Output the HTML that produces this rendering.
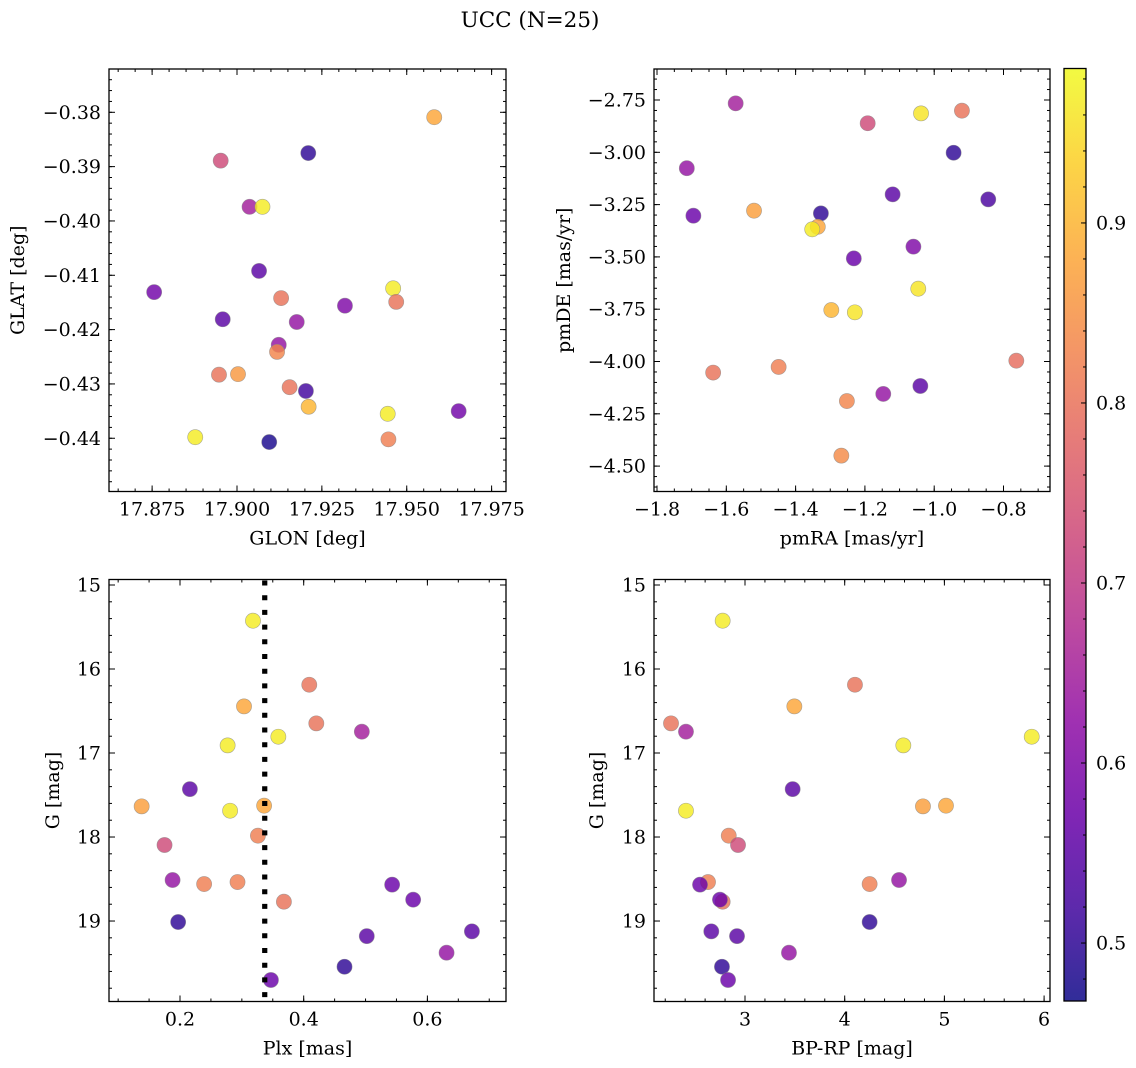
<!DOCTYPE html>
<html><head><meta charset="utf-8"><style>
html,body{margin:0;padding:0;background:#fff;}
svg{display:block;font-family:"DejaVu Serif","Liberation Serif",serif;}
</style></head><body>
<svg id="fig" width="1136" height="1068" viewBox="0 0 1136 1068" xmlns="http://www.w3.org/2000/svg">
<defs><linearGradient id="cbgrad" x1="0" y1="1" x2="0" y2="0"></linearGradient></defs>
<text x="530" y="27" font-size="21.5" text-anchor="middle">UCC (N=25)</text>
</svg>
<script>
// Panel 1 data (GLON/GLAT)
const glon = [17.9581,17.9210,17.8952,17.9037,17.9075,17.9065,17.8756,17.9460,17.9130,17.9469,17.9318,17.8958,17.9176,17.9123,17.9118,17.8947,17.9003,17.9155,17.9203,17.9211,17.9444,17.9653,17.8877,17.9095,17.9446];
const glat = [-0.3809,-0.3875,-0.3889,-0.3974,-0.3974,-0.4092,-0.4131,-0.4124,-0.4142,-0.4149,-0.4156,-0.4181,-0.4186,-0.4228,-0.4241,-0.4283,-0.4282,-0.4306,-0.4313,-0.4342,-0.4355,-0.4350,-0.4398,-0.4407,-0.4402];
const probA = [0.88,0.50,0.73,0.65,0.97,0.55,0.58,0.97,0.80,0.80,0.60,0.55,0.63,0.63,0.83,0.80,0.86,0.80,0.52,0.90,0.97,0.58,0.97,0.48,0.82];
// Panel 2 data (pmRA/pmDE)
const pmra = [-1.573,-1.714,-1.695,-1.520,-1.327,-1.336,-1.352,-1.192,-1.038,-0.920,-0.944,-1.120,-0.844,-1.232,-1.060,-1.046,-1.297,-1.229,-1.638,-1.449,-0.763,-1.040,-1.147,-1.252,-1.268];
const pmde = [-2.766,-3.076,-3.303,-3.279,-3.292,-3.356,-3.368,-2.861,-2.814,-2.801,-3.002,-3.201,-3.225,-3.507,-3.451,-3.652,-3.754,-3.765,-4.053,-4.026,-3.996,-4.117,-4.155,-4.189,-4.450];
const probB = [0.65,0.63,0.57,0.87,0.50,0.88,0.97,0.73,0.96,0.80,0.50,0.55,0.53,0.57,0.60,0.96,0.90,0.96,0.80,0.82,0.79,0.55,0.63,0.83,0.84];
// Panels 3-4 data (Plx, BP-RP, G)
const plx = [0.318,0.409,0.3035,0.4204,0.494,0.359,0.277,0.216,0.138,0.281,0.336,0.326,0.175,0.188,0.239,0.293,0.368,0.543,0.577,0.197,0.502,0.672,0.631,0.466,0.347];
const bprp = [2.776,4.103,3.495,2.258,2.408,5.876,4.588,3.478,4.785,2.408,5.016,2.837,2.93,4.545,4.25,2.629,2.776,2.549,2.749,4.25,2.92,2.662,3.441,2.769,2.83];
const gmag = [15.425,16.187,16.445,16.647,16.746,16.806,16.909,17.43,17.635,17.687,17.627,17.984,18.095,18.512,18.56,18.536,18.77,18.567,18.746,19.012,19.18,19.123,19.377,19.544,19.702];
const probC = [0.97,0.80,0.88,0.80,0.65,0.97,0.97,0.55,0.87,0.97,0.88,0.82,0.73,0.63,0.82,0.82,0.80,0.57,0.57,0.50,0.55,0.55,0.63,0.50,0.57];
const plxLine = [0.337];
// Tick labels
const p1xTicks = [17.875,17.900,17.925,17.950,17.975];
const p1yTicks = [-0.38,-0.39,-0.40,-0.41,-0.42,-0.43,-0.44];
const p2xTicks = [-1.8,-1.6,-1.4,-1.2,-1.0,-0.8];
const p2yTicks = [-2.75,-3.00,-3.25,-3.50,-3.75,-4.00,-4.25,-4.50];
const p3xTicks = [0.2,0.4,0.6];
const gTicks = [15,16,17,18,19];
const p4xTicks = [3,4,5,6];
const cbTicks = [0.5,0.6,0.7,0.8,0.9];
const vmin = 0.4678, vmax = 0.9858;

const NS = "http://www.w3.org/2000/svg";
const FS = 19;
const svg = document.getElementById('fig');
function mk(tag, attrs, parent){const e=document.createElementNS(NS,tag);for(const k in attrs)e.setAttribute(k,attrs[k]);(parent||svg).appendChild(e);return e;}
const plasma=[[13,8,135],[65,4,157],[106,0,168],[143,13,164],[177,42,144],[204,71,120],[225,100,98],[242,132,75],[252,166,54],[252,206,37],[240,249,33]];
function cmap(v){let t=(v-vmin)/(vmax-vmin);t=Math.max(0,Math.min(1,t))*10;const i=Math.min(9,Math.floor(t)),f=t-i;const a=plasma[i],b=plasma[i+1];return 'rgb('+a.map((c,k)=>Math.round(c+(b[k]-c)*f)).join(',')+')';}
function fmt(v,d){const s=v.toFixed(d);return s.replace('-','\u2212');}

function panel(cfg){
  const {name,L,R,T,B,xmin,xmax,ytop,ybot}=cfg;
  const sx=v=>L+(v-xmin)/(xmax-xmin)*(R-L);
  const sy=v=>T+(v-ytop)/(ybot-ytop)*(B-T);
  const g=mk('g',{});
  
  
  const pg=mk('g',{},g);
  
  
  for(let i=0;i<cfg.xs.length;i++){
    const c=mk('circle',{cx:sx(cfg.xs[i]),cy:sy(cfg.ys[i]),r:7.6,fill:cmap(cfg.cs[i]),'fill-opacity':0.82,stroke:'#888','stroke-opacity':0.7,'stroke-width':0.6},pg);
    
    
  }
  if(cfg.vline){cfg.vline.forEach(v=>{const l=mk('line',{x1:sx(v),x2:sx(v),y1:T+1,y2:B,stroke:'#000','stroke-width':5.2,'stroke-dasharray':'5 9.7'},g);
    
    });}
  const tk=mk('g',{stroke:'#000','stroke-width':1},g);
  const minorX=cfg.minorX, minorY=cfg.minorY;
  function xTick(v,len){const x=sx(v);if(x<L-0.1||x>R+0.1)return;mk('line',{x1:x,x2:x,y1:B,y2:B-len},tk);mk('line',{x1:x,x2:x,y1:T,y2:T+len},tk);}
  function yTick(v,len){const y=sy(v);if(y<T-0.1||y>B+0.1)return;mk('line',{x1:L,x2:L+len,y1:y,y2:y},tk);mk('line',{x1:R,x2:R-len,y1:y,y2:y},tk);}
  const xa=Math.min(xmin,xmax),xb=Math.max(xmin,xmax);
  for(let k=Math.ceil(xa/minorX-1e-6);k*minorX<=xb+1e-9;k++)xTick(k*minorX,3);
  const ya=Math.min(ytop,ybot),yb=Math.max(ytop,ybot);
  for(let k=Math.ceil(ya/minorY-1e-6);k*minorY<=yb+1e-9;k++)yTick(k*minorY,3);
  cfg.xt.forEach(v=>{xTick(v,6);const t=mk('text',{x:sx(v),y:B+24,'font-size':FS,'text-anchor':'middle'},g);t.textContent=fmt(v,cfg.xd);
    });
  cfg.yt.forEach(v=>{yTick(v,6);const t=mk('text',{x:L-8,y:sy(v)+6.5,'font-size':FS,'text-anchor':'end'},g);t.textContent=fmt(v,cfg.yd);
    });
  const fr=mk('rect',{x:L,y:T,width:R-L,height:B-T,fill:'none',stroke:'#000','stroke-width':1.3},g);
  
  const xl=mk('text',{x:(L+R)/2,y:B+53,'font-size':FS,'text-anchor':'middle'},g);xl.textContent=cfg.xlabel;
  
  const yx=cfg.ylx, yy=(T+B)/2;
  const yl=mk('text',{x:yx,y:yy,'font-size':FS,'text-anchor':'middle',transform:'rotate(-90 '+yx+' '+yy+')'},g);yl.textContent=cfg.ylabel;
  
}

panel({name:'glon-glat-panel',L:109,R:506,T:69,B:491.5,xmin:17.8623,xmax:17.97924,ytop:-0.37203,ybot:-0.44980,xs:glon,ys:glat,cs:probA,xt:p1xTicks,yt:p1yTicks,xd:3,yd:2,minorX:0.005,minorY:0.002,xlabel:'GLON [deg]',ylabel:'GLAT [deg]',ylx:24});
panel({name:'pm-panel',L:654,R:1050,T:69,B:491.5,xmin:-1.8087,xmax:-0.6658,ytop:-2.6018,ybot:-4.6214,xs:pmra,ys:pmde,cs:probB,xt:p2xTicks,yt:p2yTicks,xd:1,yd:2,minorX:0.05,minorY:0.05,xlabel:'pmRA [mas/yr]',ylabel:'pmDE [mas/yr]',ylx:570});
panel({name:'plx-g-panel',L:109,R:506,T:579.5,B:1001.5,xmin:0.0852,xmax:0.7271,ytop:14.9345,ybot:19.958,xs:plx,ys:gmag,cs:probC,xt:p3xTicks,yt:gTicks,xd:1,yd:0,minorX:0.05,minorY:0.2,xlabel:'Plx [mas]',ylabel:'G [mag]',ylx:59,vline:plxLine});
panel({name:'cmd-panel',L:654,R:1050,T:579.5,B:1001.5,xmin:2.0873,xmax:6.0592,ytop:14.9345,ybot:19.958,xs:bprp,ys:gmag,cs:probC,xt:p4xTicks,yt:gTicks,xd:0,yd:0,minorX:0.2,minorY:0.2,xlabel:'BP-RP [mag]',ylabel:'G [mag]',ylx:603});

const grad=document.getElementById('cbgrad');
for(let i=0;i<=20;i++){const v=vmin+(vmax-vmin)*i/20;mk('stop',{offset:(i/20),'stop-color':cmap(v)},grad);}
const cbL=1064,cbR=1086,cbT=68.5,cbB=1001;
const cbg=mk('g',{});


mk('rect',{x:cbL,y:cbT,width:cbR-cbL,height:cbB-cbT,fill:'url(#cbgrad)','fill-opacity':0.85},cbg);
const cy=v=>cbB-(v-vmin)/(vmax-vmin)*(cbB-cbT);
for(let k=Math.ceil(vmin/0.02);k*0.02<=vmax;k++){const y=cy(k*0.02);mk('line',{x1:cbR,x2:cbR-3,y1:y,y2:y,stroke:'#000'},cbg);}
cbTicks.forEach(v=>{const y=cy(v);mk('line',{x1:cbR,x2:cbR-5,y1:y,y2:y,stroke:'#000'},cbg);
  const t=mk('text',{x:cbR+10,y:y+6.5,'font-size':FS},cbg);t.textContent=v.toFixed(1);
  });
mk('rect',{x:cbL,y:cbT,width:cbR-cbL,height:cbB-cbT,fill:'none',stroke:'#000','stroke-width':1.3},cbg);
</script>
</body></html>
